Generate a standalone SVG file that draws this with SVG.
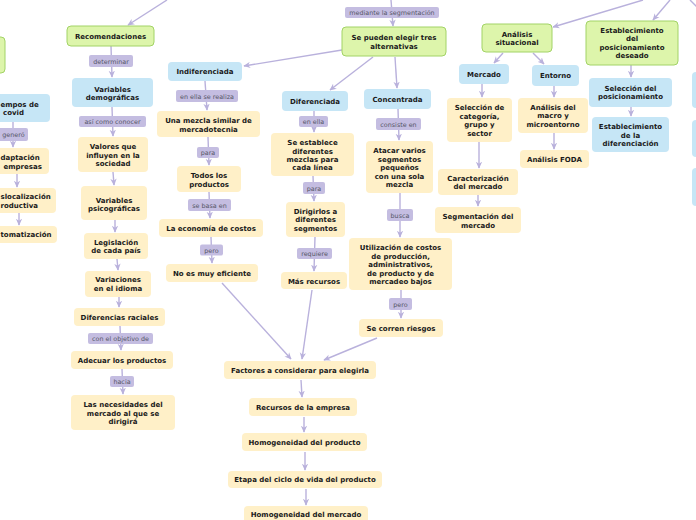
<svg xmlns="http://www.w3.org/2000/svg" width="696" height="520" viewBox="0 0 696 520">
<style>
.g{fill:#ddf5ab;stroke:#a2d366;stroke-width:1}
.b{fill:#c6e6f6}
.y{fill:#fff0c8}
.l{fill:#c4bde1}
.t{font-family:"DejaVu Sans",Verdana,sans-serif;font-weight:bold;font-size:7px;fill:#1a1a1a;text-anchor:middle}
.ts{font-family:"DejaVu Sans",Verdana,sans-serif;font-weight:bold;font-size:7px;fill:#1a1a1a;text-anchor:start}
.lt{font-family:"DejaVu Sans",Verdana,sans-serif;font-size:6.4px;fill:#555566;text-anchor:middle}
.c line{stroke:#b9b1dc;stroke-width:1.4;fill:none}
.c line.a{marker-end:url(#ah)}
</style>
<defs>
<marker id="ah" viewBox="0 0 10 10" refX="9" refY="5" markerWidth="7" markerHeight="7" markerUnits="userSpaceOnUse" orient="auto">
<path d="M0,0.5 L10,5 L0,9.5 L3,5 z" fill="#b9b1dc"/>
</marker>
</defs>
<rect width="696" height="520" fill="#ffffff"/>
<g id="connectors" class="c">
<line class="a" x1="167" y1="0" x2="128" y2="25"/>
<line class="a" x1="391" y1="0" x2="393" y2="26"/>
<line class="a" x1="643" y1="0" x2="553" y2="27"/>
<line class="a" x1="670" y1="0" x2="653" y2="20"/>
<line x1="690" y1="0" x2="697" y2="7"/>
<line class="a" x1="111" y1="46" x2="112" y2="77"/>
<line class="a" x1="112" y1="107" x2="113" y2="136"/>
<line class="a" x1="113" y1="172" x2="114" y2="185"/>
<line class="a" x1="115" y1="220" x2="115" y2="232"/>
<line class="a" x1="117" y1="259" x2="118" y2="270"/>
<line class="a" x1="119" y1="297" x2="119" y2="307"/>
<line class="a" x1="120" y1="326" x2="121" y2="350"/>
<line class="a" x1="122" y1="369" x2="123" y2="394"/>
<line class="a" x1="342" y1="50" x2="244" y2="66"/>
<line class="a" x1="205" y1="81" x2="207" y2="110"/>
<line class="a" x1="208" y1="137" x2="209" y2="165"/>
<line class="a" x1="209" y1="192" x2="210" y2="218"/>
<line class="a" x1="211" y1="237" x2="212" y2="263"/>
<line class="a" x1="222" y1="283" x2="291" y2="359"/>
<line class="a" x1="373" y1="57" x2="330" y2="90"/>
<line class="a" x1="314" y1="111" x2="314" y2="132"/>
<line class="a" x1="313" y1="176" x2="314" y2="201"/>
<line class="a" x1="315" y1="237" x2="314" y2="271"/>
<line class="a" x1="312" y1="290" x2="302" y2="359"/>
<line class="a" x1="395" y1="57" x2="397" y2="88"/>
<line class="a" x1="398" y1="109" x2="399" y2="140"/>
<line class="a" x1="400" y1="193" x2="400" y2="237"/>
<line class="a" x1="401" y1="290" x2="401" y2="318"/>
<line class="a" x1="377" y1="338" x2="324" y2="360"/>
<line class="a" x1="301" y1="380" x2="302" y2="397"/>
<line class="a" x1="304" y1="417" x2="304" y2="432"/>
<line class="a" x1="305" y1="452" x2="305" y2="470"/>
<line class="a" x1="306" y1="489" x2="306" y2="505"/>
<line class="a" x1="503" y1="53" x2="494" y2="63"/>
<line class="a" x1="533" y1="53" x2="544" y2="64"/>
<line class="a" x1="482" y1="84" x2="482" y2="97"/>
<line class="a" x1="554" y1="86" x2="554" y2="97"/>
<line class="a" x1="554" y1="133" x2="554" y2="149"/>
<line class="a" x1="479" y1="142" x2="479" y2="168"/>
<line class="a" x1="478" y1="195" x2="478" y2="206"/>
<line class="a" x1="631" y1="65" x2="631" y2="77"/>
<line class="a" x1="631" y1="107" x2="631" y2="116"/>
<line class="a" x1="13" y1="122" x2="13" y2="147"/>
<line class="a" x1="17" y1="174" x2="17" y2="187"/>
<line class="a" x1="19" y1="213" x2="19" y2="225"/>
<g id="labels">
<rect class="l" x="345" y="7" width="94" height="11" rx="2"/><text class="lt" x="392" y="15">mediante la segmentación</text>
<rect class="l" x="89" y="55" width="44" height="12" rx="2"/><text class="lt" x="111" y="63.5">determinar</text>
<rect class="l" x="79" y="116" width="67" height="11" rx="2"/><text class="lt" x="112.5" y="124">así como conocer</text>
<rect class="l" x="88" y="333" width="65" height="11" rx="2"/><text class="lt" x="120.5" y="341">con el objetivo de</text>
<rect class="l" x="110" y="376" width="24" height="11" rx="2"/><text class="lt" x="122" y="384">hacia</text>
<rect class="l" x="-4" y="128" width="32" height="13" rx="2"/><text class="lt" x="13.5" y="137">generó</text>
<rect class="l" x="176" y="90" width="62" height="12" rx="2"/><text class="lt" x="207" y="98.5">en ella se realiza</text>
<rect class="l" x="197" y="147" width="22" height="11" rx="2"/><text class="lt" x="208" y="154.5">para</text>
<rect class="l" x="188" y="199" width="43" height="12" rx="2"/><text class="lt" x="209.5" y="207.5">se basa en</text>
<rect class="l" x="200" y="244.5" width="23" height="11" rx="2"/><text class="lt" x="211.5" y="252.5">pero</text>
<rect class="l" x="299" y="116" width="29" height="11" rx="2"/><text class="lt" x="313.5" y="124">en ella</text>
<rect class="l" x="303" y="182" width="22" height="12" rx="2"/><text class="lt" x="314" y="190.5">para</text>
<rect class="l" x="297" y="248" width="35" height="11" rx="2"/><text class="lt" x="314.5" y="256">requiere</text>
<rect class="l" x="376" y="118" width="45" height="12" rx="2"/><text class="lt" x="398.5" y="126.5">consiste en</text>
<rect class="l" x="387" y="209" width="26" height="12" rx="2"/><text class="lt" x="400" y="217.5">busca</text>
<rect class="l" x="389" y="298" width="23" height="12" rx="2"/><text class="lt" x="400.5" y="306.5">pero</text>
</g>
</g>
<g id="n-leftgreen"><rect class="g" x="-20" y="37" width="25" height="36" rx="4"/></g>
<g id="n-covid"><rect class="b" x="-26" y="94" width="76" height="28" rx="4"/><text class="ts"><tspan x="0.5" y="107">empos de</tspan><tspan x="3" y="115">covid</tspan></text></g>
<g id="n-adapt"><rect class="y" x="-22" y="148" width="71" height="26" rx="4"/><text class="ts"><tspan x="0.5" y="160">daptación</tspan><tspan x="3.5" y="168.5">empresas</tspan></text></g>
<g id="n-desloc"><rect class="y" x="-30" y="188" width="86" height="25" rx="4"/><text class="ts"><tspan x="0.5" y="199">slocalización</tspan><tspan x="0.5" y="208">roductiva</tspan></text></g>
<g id="n-autom"><rect class="y" x="-20" y="226" width="77" height="17" rx="4"/><text class="ts" x="0.5" y="237">tomatización</text></g>
<g id="n-rec"><rect class="g" x="67" y="26" width="87" height="20" rx="4"/><text class="t" x="110.5" y="38.5">Recomendaciones</text></g>
<g id="n-vdem"><rect class="b" x="72" y="78" width="81" height="29" rx="4"/><text class="t"><tspan x="112.5" y="91.5">Variables</tspan><tspan x="112.5" y="100">demográficas</tspan></text></g>
<g id="n-val"><rect class="y" x="78" y="137" width="70" height="35" rx="4"/><text class="t"><tspan x="113" y="149">Valores que</tspan><tspan x="113" y="157.5">influyen en la</tspan><tspan x="113" y="166">sociedad</tspan></text></g>
<g id="n-psico"><rect class="y" x="81" y="186" width="66" height="34" rx="4"/><text class="t"><tspan x="114" y="202.8">Variables</tspan><tspan x="114" y="210.8">psicográficas</tspan></text></g>
<g id="n-leg"><rect class="y" x="84" y="233" width="64" height="26" rx="4"/><text class="t"><tspan x="116" y="245">Legislación</tspan><tspan x="116" y="253">de cada país</tspan></text></g>
<g id="n-var"><rect class="y" x="85" y="271" width="66" height="26" rx="4"/><text class="t"><tspan x="118" y="281.8">Variaciones</tspan><tspan x="118" y="290.8">en el idioma</tspan></text></g>
<g id="n-dif"><rect class="y" x="74" y="308" width="91" height="18" rx="4"/><text class="t" x="119.5" y="319.8">Diferencias raciales</text></g>
<g id="n-adec"><rect class="y" x="71" y="351" width="102" height="18" rx="4"/><text class="t" x="122" y="362.8">Adecuar los productos</text></g>
<g id="n-nec"><rect class="y" x="71" y="395" width="104" height="35" rx="4"/><text class="t"><tspan x="123" y="406.8">Las necesidades del</tspan><tspan x="123" y="415.8">mercado al que se</tspan><tspan x="123" y="424.2">dirigirá</tspan></text></g>
<g id="n-indif"><rect class="b" x="168" y="62" width="74" height="19" rx="4"/><text class="t" x="205" y="74.2">Indiferenciada</text></g>
<g id="n-mezcla"><rect class="y" x="157" y="111" width="103" height="26" rx="4"/><text class="t"><tspan x="208.5" y="122.8">Una mezcla similar de</tspan><tspan x="208.5" y="131.8">mercadotecnia</tspan></text></g>
<g id="n-todos"><rect class="y" x="177" y="166" width="64" height="26" rx="4"/><text class="t"><tspan x="209" y="177.5">Todos los</tspan><tspan x="209" y="186.5">productos</tspan></text></g>
<g id="n-econ"><rect class="y" x="159" y="219" width="104" height="18" rx="4"/><text class="t" x="211" y="230.8">La economía de costos</text></g>
<g id="n-noes"><rect class="y" x="166" y="264" width="92" height="18" rx="4"/><text class="t" x="212" y="275.8">No es muy eficiente</text></g>
<g id="n-difer"><rect class="b" x="282" y="91" width="66" height="20" rx="4"/><text class="t" x="315" y="103.5">Diferenciada</text></g>
<g id="n-seest"><rect class="y" x="271" y="133" width="83" height="43" rx="4"/><text class="t"><tspan x="312.5" y="145">Se establece</tspan><tspan x="312.5" y="153.5">diferentes</tspan><tspan x="312.5" y="162">mezclas para</tspan><tspan x="312.5" y="170">cada línea</tspan></text></g>
<g id="n-dirig"><rect class="y" x="286" y="202" width="59" height="35" rx="4"/><text class="t"><tspan x="315.5" y="214">Dirigirlos a</tspan><tspan x="315.5" y="222">diferentes</tspan><tspan x="315.5" y="230.5">segmentos</tspan></text></g>
<g id="n-masrec"><rect class="y" x="281" y="272" width="66" height="17" rx="4"/><text class="t" x="314" y="284">Más recursos</text></g>
<g id="n-conc"><rect class="b" x="364" y="89" width="67" height="20" rx="4"/><text class="t" x="397.5" y="101.8">Concentrada</text></g>
<g id="n-atacar"><rect class="y" x="366" y="141" width="67" height="52" rx="4"/><text class="t"><tspan x="399.5" y="153">Atacar varios</tspan><tspan x="399.5" y="161.5">segmentos</tspan><tspan x="399.5" y="170">pequeños</tspan><tspan x="399.5" y="178.5">con una sola</tspan><tspan x="399.5" y="187">mezcla</tspan></text></g>
<g id="n-util"><rect class="y" x="349" y="238" width="103" height="52" rx="4"/><text class="t"><tspan x="400.5" y="250.2">Utilización de costos</tspan><tspan x="400.5" y="258.8">de producción,</tspan><tspan x="400.5" y="267.2">administrativos,</tspan><tspan x="400.5" y="275.8">de producto y de</tspan><tspan x="400.5" y="284.2">mercadeo bajos</tspan></text></g>
<g id="n-riesgos"><rect class="y" x="359" y="319" width="84" height="18" rx="4"/><text class="t" x="401" y="330.8">Se corren riesgos</text></g>
<g id="n-factores"><rect class="y" x="224" y="361" width="152" height="18" rx="4"/><text class="t" x="300" y="372.8">Factores a considerar para elegirla</text></g>
<g id="n-recursos"><rect class="y" x="249" y="398" width="108" height="18" rx="4"/><text class="t" x="303" y="409.8">Recursos de la empresa</text></g>
<g id="n-homprod"><rect class="y" x="242" y="433" width="125" height="18" rx="4"/><text class="t" x="304.5" y="444.8">Homogeneidad del producto</text></g>
<g id="n-etapa"><rect class="y" x="228" y="471" width="154" height="17" rx="4"/><text class="t" x="305" y="481.8">Etapa del ciclo de vida del producto</text></g>
<g id="n-hommer"><rect class="y" x="244" y="506" width="124" height="20" rx="4"/><text class="t" x="306" y="516.8">Homogeneidad del mercado</text></g>
<g id="n-sepueden"><rect class="g" x="342" y="27" width="104" height="29" rx="4"/><text class="t"><tspan x="394" y="39.8">Se pueden elegir tres</tspan><tspan x="394" y="48.8">alternativas</tspan></text></g>
<g id="n-analisis"><rect class="g" x="482" y="24" width="70" height="28" rx="4"/><text class="t"><tspan x="517" y="36.8">Análisis</tspan><tspan x="517" y="45.2">situacional</tspan></text></g>
<g id="n-establ"><rect class="g" x="586" y="21" width="92" height="44" rx="4"/><text class="t"><tspan x="632" y="32.8">Establecimiento</tspan><tspan x="632" y="41.2">del</tspan><tspan x="632" y="49.5">posicionamiento</tspan><tspan x="632" y="57.8">deseado</tspan></text></g>
<g id="n-mercado"><rect class="b" x="459" y="64" width="50" height="20" rx="4"/><text class="t" x="484" y="76.5">Mercado</text></g>
<g id="n-entorno"><rect class="b" x="532" y="65" width="47" height="21" rx="4"/><text class="t" x="555.5" y="78.2">Entorno</text></g>
<g id="n-selcat"><rect class="y" x="447" y="98" width="65" height="44" rx="4"/><text class="t"><tspan x="479.5" y="109.8">Selección de</tspan><tspan x="479.5" y="118.5">categoría,</tspan><tspan x="479.5" y="127.2">grupo y</tspan><tspan x="479.5" y="135.8">sector</tspan></text></g>
<g id="n-macro"><rect class="y" x="518" y="98" width="70" height="35" rx="4"/><text class="t"><tspan x="553" y="109.8">Análisis del</tspan><tspan x="553" y="118.2">macro y</tspan><tspan x="553" y="126.8">microentorno</tspan></text></g>
<g id="n-foda"><rect class="y" x="520" y="150" width="69" height="18" rx="4"/><text class="t" x="554.5" y="161.8">Análisis FODA</text></g>
<g id="n-caract"><rect class="y" x="438" y="169" width="80" height="26" rx="4"/><text class="t"><tspan x="478" y="180.8">Caracterización</tspan><tspan x="478" y="189.2">del mercado</tspan></text></g>
<g id="n-segm"><rect class="y" x="435" y="207" width="86" height="26" rx="4"/><text class="t"><tspan x="478" y="218.8">Segmentación del</tspan><tspan x="478" y="227.8">mercado</tspan></text></g>
<g id="n-selpos"><rect class="b" x="589" y="78" width="83" height="29" rx="4"/><text class="t"><tspan x="630.5" y="90.8">Selección del</tspan><tspan x="630.5" y="99.2">posicionamiento</tspan></text></g>
<g id="n-estdif"><rect class="b" x="592" y="117" width="77" height="35" rx="4"/><text class="t"><tspan x="630.5" y="129.2">Establecimiento</tspan><tspan x="630.5" y="137.5">de la</tspan><tspan x="630.5" y="145.8">diferenciación</tspan></text></g>
<g id="n-right1"><rect class="b" x="692" y="72" width="20" height="36" rx="4"/></g>
<g id="n-right2"><rect class="b" x="692" y="120" width="20" height="37" rx="4"/></g>
<g id="n-right3"><rect class="b" x="692" y="168" width="20" height="38" rx="4"/></g>
</svg>
